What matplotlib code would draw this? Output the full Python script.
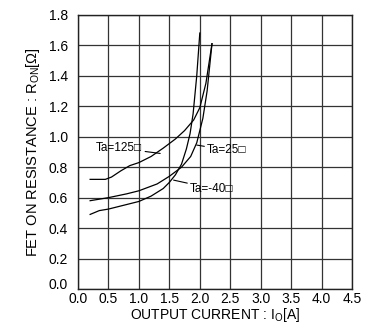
import matplotlib
matplotlib.use("Agg")
import matplotlib.pyplot as plt
import matplotlib.transforms as mtransforms

plt.rcParams["font.family"] = ["Liberation Sans", "DejaVu Sans"]
plt.rcParams["mathtext.fontset"] = "custom"
plt.rcParams["mathtext.rm"] = "Liberation Sans"

# data
x_125 = [0.2, 0.45, 0.55, 0.7, 0.85, 1.0, 1.2, 1.4, 1.6, 1.75, 1.9, 2.0, 2.1, 2.2]
y_125 = [0.72, 0.72, 0.735, 0.775, 0.81, 0.83, 0.87, 0.925, 0.985, 1.04, 1.11, 1.19, 1.35, 1.61]

x_25 = [0.2, 0.5, 0.8, 1.0, 1.3, 1.5, 1.7, 1.85, 1.95, 2.05, 2.12, 2.2]
y_25 = [0.58, 0.60, 0.625, 0.645, 0.69, 0.74, 0.80, 0.87, 0.96, 1.12, 1.3, 1.61]

x_m40 = [0.2, 0.35, 0.5, 0.8, 1.0, 1.2, 1.4, 1.5, 1.6, 1.7, 1.78, 1.84, 1.89, 1.95, 2.0]
y_m40 = [0.49, 0.515, 0.525, 0.555, 0.575, 0.61, 0.66, 0.70, 0.75, 0.82, 0.92, 1.02, 1.15, 1.4, 1.68]

xticks = [0.0, 0.5, 1.0, 1.5, 2.0, 2.5, 3.0, 3.5, 4.0, 4.5]
yticks = [0.0, 0.2, 0.4, 0.6, 0.8, 1.0, 1.2, 1.4, 1.6, 1.8]

fig = plt.figure(figsize=(3.73, 3.35), dpi=100)
ax = fig.add_axes([0.209, 0.137, 0.735, 0.819])

ax.plot(x_125, y_125, color="black", lw=0.9)
ax.plot(x_25, y_25, color="black", lw=0.9)
ax.plot(x_m40, y_m40, color="black", lw=0.9)

ax.set_xlim(0, 4.5)
ax.set_ylim(0, 1.8)
ax.set_xticks(xticks)
ax.set_yticks(yticks)
ax.set_xticklabels(["%.1f" % v for v in xticks])
ax.set_yticklabels(["%.1f" % v for v in yticks])
ax.tick_params(axis="x", length=0, labelsize=10, pad=2)
ax.tick_params(axis="y", length=0, labelsize=10, pad=7)
ax.grid(True, color="#333333", lw=0.9)
for s in ax.spines.values():
    s.set_color("#222222")
    s.set_linewidth(1.0)

# the bottom y label sits a bit higher, like in the original
lab0 = ax.get_yticklabels()[0]
lab0.set_transform(lab0.get_transform() + mtransforms.ScaledTranslation(0, 4 / 72, fig.dpi_scale_trans))

# labels with pointers
arrow = dict(arrowstyle="-", color="black", lw=0.8, shrinkA=0, shrinkB=0)
ax.annotate("Ta=125□", xy=(1.35, 0.89), xytext=(0.30, 0.925), fontsize=8.5,
            va="center", ha="left", arrowprops=arrow)
ax.annotate("Ta=25□", xy=(1.95, 0.945), xytext=(2.12, 0.912), fontsize=8.5,
            va="center", ha="left", arrowprops=arrow)
ax.annotate("Ta=-40□", xy=(1.57, 0.715), xytext=(1.84, 0.66), fontsize=8.5,
            va="center", ha="left", arrowprops=arrow)

ax.set_xlabel("OUTPUT CURRENT : I$_{\\rm O}$[A]", fontsize=10, labelpad=0)
ax.set_ylabel("FET ON RESISTANCE : R$_{\\rm ON}$[Ω]", fontsize=10.5, labelpad=5)

fig.savefig("out.png", dpi=100)
